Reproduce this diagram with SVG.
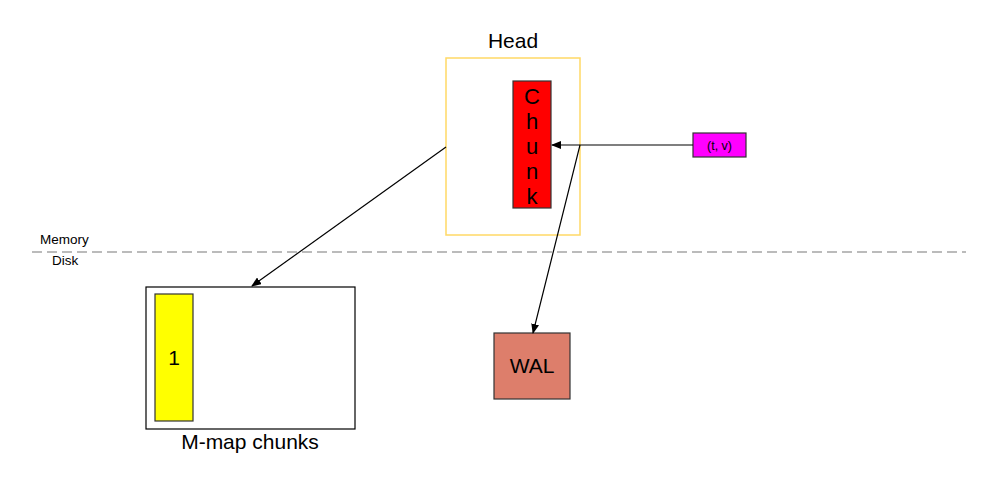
<svg xmlns="http://www.w3.org/2000/svg" width="1000" height="477" viewBox="0 0 1000 477">
<defs>
<style>
text{font-family:"Liberation Sans",Arial,sans-serif;fill:#000}
.big{font-size:21px}
.conn{stroke:#000;stroke-width:1.2;fill:none}
</style>
<marker id="ah" markerWidth="10" markerHeight="8" refX="9" refY="4" orient="auto" markerUnits="userSpaceOnUse">
<path d="M0,0 L10,4 L0,8 Z" fill="#000"/>
</marker>
</defs>
<rect width="1000" height="477" fill="#fff"/>
<g id="divider">
<line x1="32" y1="252" x2="966" y2="252" stroke="#bbbbbb" stroke-width="2" stroke-dasharray="10,5"/>
<text x="40" y="244" font-size="13.5">Memory</text>
<text x="52" y="265" font-size="13.5">Disk</text>
</g>
<g id="head">
<rect x="446" y="58" width="134" height="177" fill="#fff" stroke="#ffd966" stroke-width="1.5"/>
<text class="big" x="513" y="48" text-anchor="middle">Head</text>
</g>
<g id="chunk">
<rect x="513" y="81" width="38" height="127" fill="#ff0000" stroke="#333" stroke-width="1.2"/>
<text font-size="22" text-anchor="middle"><tspan x="532" y="104">C</tspan><tspan x="532" y="129">h</tspan><tspan x="532" y="154">u</tspan><tspan x="532" y="179">n</tspan><tspan x="532" y="204">k</tspan></text>
</g>
<g id="tv">
<rect x="693" y="133" width="53" height="24" fill="#ff00ff" stroke="#333" stroke-width="1.2"/>
<text x="719.5" y="149.5" font-size="12.5" text-anchor="middle">(t, v)</text>
</g>
<g id="mmap">
<rect x="146" y="287" width="209" height="142" fill="#fff" stroke="#000" stroke-width="1.2"/>
<text class="big" x="250" y="449" text-anchor="middle">M-map chunks</text>
</g>
<g id="chunk1">
<rect x="155" y="294" width="38" height="127" fill="#ffff00" stroke="#333" stroke-width="1.2"/>
<text class="big" x="174" y="365" text-anchor="middle">1</text>
</g>
<g id="wal">
<rect x="494" y="333" width="76" height="66" fill="#dd7e6b" stroke="#333" stroke-width="1.2"/>
<text class="big" x="532" y="373" text-anchor="middle">WAL</text>
</g>
<g id="connectors">
<line class="conn" x1="693" y1="145" x2="552" y2="145" marker-end="url(#ah)"/>
<line class="conn" x1="580" y1="145" x2="533" y2="333" marker-end="url(#ah)"/>
<line class="conn" x1="446" y1="147" x2="252" y2="286" marker-end="url(#ah)"/>
</g>
</svg>
